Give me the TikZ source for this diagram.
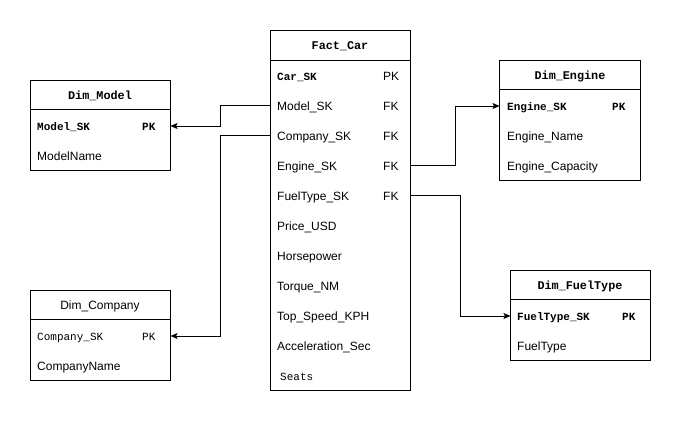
\documentclass[tikz,border=0pt]{standalone}
\usepackage{fontspec}
\setmainfont{Liberation Sans}
\newfontfamily\monof{Liberation Mono}
\usetikzlibrary{arrows.meta}
\begin{document}
\begin{tikzpicture}[x=1pt,y=-1pt,
  box/.style={draw,line width=0.9pt,anchor=north west,inner sep=0pt,outer sep=0pt},
  hline/.style={line width=0.9pt},
  fld/.style={anchor=west,inner sep=0pt,text height=10.5pt,text depth=1.5pt,font=\fontsize{12}{14}\selectfont},
  mb/.style={fld,font=\monof\bfseries\fontsize{11}{13}\selectfont},
  mr/.style={fld,font=\monof\fontsize{11}{13}\selectfont},
  hd/.style={anchor=center,inner sep=0pt,text height=10.5pt,text depth=1.5pt,font=\monof\bfseries\fontsize{11.8}{14}\selectfont},
  hds/.style={anchor=center,inner sep=0pt,text height=10.5pt,text depth=1.5pt,font=\fontsize{12}{14}\selectfont},
  conn/.style={line width=0.9pt,-{Stealth[length=7pt,width=6pt,inset=1.5pt]}}
]
\useasboundingbox[fill=white] (0,0) rectangle (681,421);

% ---------- Fact_Car ----------
\node[box,minimum width=140pt,minimum height=360pt] (fact) at (270.5,30.5) {};
\draw[hline] (270.5,60.5) -- (410.5,60.5);
\node[hd] (facth) at (340,45) {Fact\_Car};
\node[mb] (fcar) at (277,76) {Car\_SK};
\node[fld] (fcarpk) at (383,76) {PK};
\node[fld] (fmodel) at (277,105.5) {Model\_SK};
\node[fld] (fmodelfk) at (383,105.5) {FK};
\node[fld] (fcomp) at (277,135.5) {Company\_SK};
\node[fld] (fcompfk) at (383,135.5) {FK};
\node[fld] (feng) at (277,165.5) {Engine\_SK};
\node[fld] (fengfk) at (383,165.5) {FK};
\node[fld] (ffuel) at (277,195.5) {FuelType\_SK};
\node[fld] (ffuelfk) at (383,195.5) {FK};
\node[fld] (fprice) at (277,225.5) {Price\_USD};
\node[fld] (fhp) at (277,255.5) {Horsepower};
\node[fld] (ftq) at (277,285.5) {Torque\_NM};
\node[fld] (ftop) at (277,315.5) {Top\_Speed\_KPH};
\node[fld] (facc) at (277,345.5) {Acceleration\_Sec};
\node[mr] (fseats) at (280,376) {Seats};

% ---------- Dim_Model ----------
\node[box,minimum width=140pt,minimum height=90pt] (dmodel) at (30.5,80.5) {};
\draw[hline] (30.5,109.5) -- (170.5,109.5);
\node[hd] (dmodelh) at (100,95) {Dim\_Model};
\node[mb] (mmodel) at (37,126) {Model\_SK};
\node[mb] (mmodelpk) at (142,126) {PK};
\node[fld] (mname) at (37,155.5) {ModelName};

% ---------- Dim_Company ----------
\node[box,minimum width=140pt,minimum height=90pt] (dcomp) at (30.5,290.5) {};
\draw[hline] (30.5,319.5) -- (170.5,319.5);
\node[hds] (dcomph) at (100,305) {Dim\_Company};
\node[mr] (ccomp) at (37,336) {Company\_SK};
\node[mr] (ccomppk) at (142,336) {PK};
\node[fld] (cname) at (37,365.5) {CompanyName};

% ---------- Dim_Engine ----------
\node[box,minimum width=141pt,minimum height=120pt] (deng) at (499.5,60.5) {};
\draw[hline] (499.5,89.5) -- (640.5,89.5);
\node[hd] (dengh) at (570,75) {Dim\_Engine};
\node[mb] (eeng) at (507,106) {Engine\_SK};
\node[mb] (eengpk) at (612,106) {PK};
\node[fld] (ename) at (507,135.5) {Engine\_Name};
\node[fld] (ecap) at (507,165.5) {Engine\_Capacity};

% ---------- Dim_FuelType ----------
\node[box,minimum width=140pt,minimum height=90pt] (dfuel) at (510.5,270.5) {};
\draw[hline] (510.5,299.5) -- (650.5,299.5);
\node[hd] (dfuelh) at (580,285) {Dim\_FuelType};
\node[mb] (ufuel) at (517,316) {FuelType\_SK};
\node[mb] (ufuelpk) at (622,316) {PK};
\node[fld] (uname) at (517,345.5) {FuelType};

% ---------- Connectors ----------
\draw[conn] (fact.west |- fmodel) -- (220.5,105.5) |- (dmodel.east |- mmodel);
\draw[conn] (fact.west |- fcomp) -- (220.5,135.5) |- (dcomp.east |- ccomp);
\draw[conn] (fact.east |- feng) -- (455.5,165.5) |- (deng.west |- eeng);
\draw[conn] (fact.east |- ffuel) -- (460.5,195.5) |- (dfuel.west |- ufuel);
\end{tikzpicture}
\end{document}
